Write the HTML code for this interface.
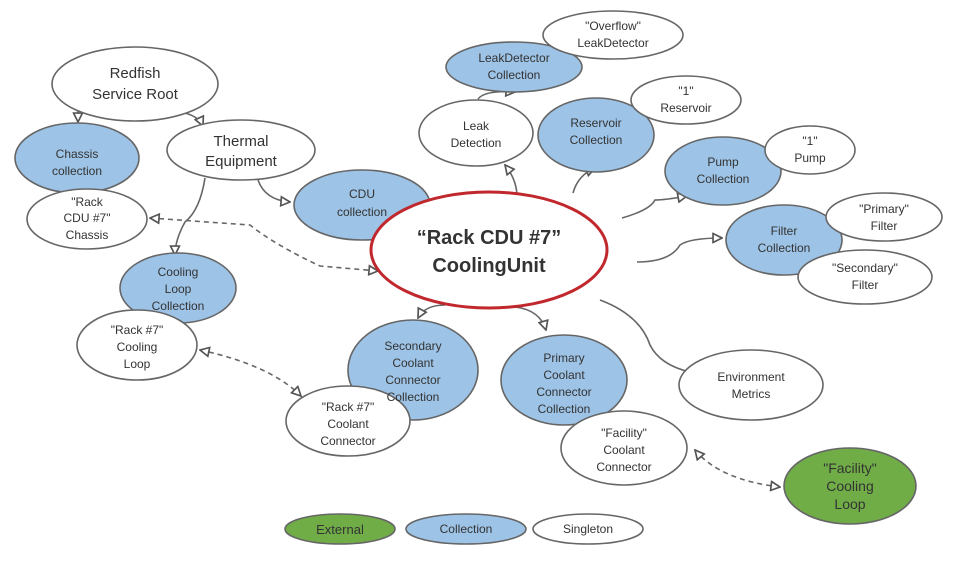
<!DOCTYPE html>
<html><head><meta charset="utf-8"><style>
html,body{margin:0;padding:0;background:#fff}
svg text{font-family:"Liberation Sans",sans-serif;fill:#333;text-anchor:middle}
</style></head><body>
<svg width="973" height="577" viewBox="0 0 973 577" xmlns="http://www.w3.org/2000/svg">
<defs>
<marker id="a" viewBox="0 0 10 10" refX="9" refY="5" markerWidth="7" markerHeight="7" orient="auto-start-reverse"><path d="M1,1 L9,5 L1,9 Z" fill="#fff" stroke="#555" stroke-width="1.5"/></marker>
</defs>
<g fill="none" stroke="#666" stroke-width="1.6">
<path d="M78,110 L78,122" marker-end="url(#a)"/>
<path d="M180,112 Q198,115 203,126" marker-end="url(#a)"/>
<path d="M258,180 Q265,200 290,202" marker-end="url(#a)"/>
<path d="M205,178 Q200,210 185,222 Q175,240 175,255" marker-end="url(#a)"/>
<path d="M150,218 L250,225 Q275,245 320,266 L378,271" stroke-dasharray="5,4" marker-start="url(#a)" marker-end="url(#a)"/>
<path d="M200,350 Q270,365 301,396" stroke-dasharray="5,4" marker-start="url(#a)" marker-end="url(#a)"/>
<path d="M780,487 Q720,480 695,450" stroke-dasharray="5,4" marker-start="url(#a)" marker-end="url(#a)"/>
<path d="M517,197 Q517,180 505,165" marker-end="url(#a)"/>
<path d="M478,99 Q485,90 515,92" marker-end="url(#a)"/>
<path d="M573,193 Q578,175 595,168" marker-end="url(#a)"/>
<path d="M622,218 Q650,210 655,200 Q665,200 687,196" marker-end="url(#a)"/>
<path d="M637,262 Q670,262 680,245 Q690,238 722,238" marker-end="url(#a)"/>
<path d="M445,305 Q425,305 418,318" marker-end="url(#a)"/>
<path d="M515,307 Q540,310 546,330" marker-end="url(#a)"/>
<path d="M600,300 Q640,315 650,345 Q660,365 690,372"/>
</g>
<g stroke="#666" stroke-width="1.6">
<ellipse cx="77" cy="158" rx="62" ry="35" fill="#9dc3e6"/>
<ellipse cx="362" cy="205" rx="68" ry="35" fill="#9dc3e6"/>
<ellipse cx="178" cy="288" rx="58" ry="35" fill="#9dc3e6"/>
<ellipse cx="514" cy="67" rx="68" ry="25" fill="#9dc3e6"/>
<ellipse cx="596" cy="135" rx="58" ry="37" fill="#9dc3e6"/>
<ellipse cx="723" cy="171" rx="58" ry="34" fill="#9dc3e6"/>
<ellipse cx="784" cy="240" rx="58" ry="35" fill="#9dc3e6"/>
<ellipse cx="413" cy="370" rx="65" ry="50" fill="#9dc3e6"/>
<ellipse cx="564" cy="380" rx="63" ry="45" fill="#9dc3e6"/>
<ellipse cx="135" cy="84" rx="83" ry="37" fill="#fff"/>
<ellipse cx="241" cy="150" rx="74" ry="30" fill="#fff"/>
<ellipse cx="87" cy="219" rx="60" ry="30" fill="#fff"/>
<ellipse cx="137" cy="345" rx="60" ry="35" fill="#fff"/>
<ellipse cx="476" cy="133" rx="57" ry="33" fill="#fff"/>
<ellipse cx="613" cy="35" rx="70" ry="24" fill="#fff"/>
<ellipse cx="686" cy="100" rx="55" ry="24" fill="#fff"/>
<ellipse cx="810" cy="150" rx="45" ry="24" fill="#fff"/>
<ellipse cx="884" cy="217" rx="58" ry="24" fill="#fff"/>
<ellipse cx="865" cy="277" rx="67" ry="27" fill="#fff"/>
<ellipse cx="348" cy="421" rx="62" ry="35" fill="#fff"/>
<ellipse cx="624" cy="448" rx="63" ry="37" fill="#fff"/>
<ellipse cx="751" cy="385" rx="72" ry="35" fill="#fff"/>
<ellipse cx="850" cy="486" rx="66" ry="38" fill="#70ad47"/>
<ellipse cx="489" cy="250" rx="118" ry="58" fill="#fff" stroke="#c0282d" stroke-width="3"/>
<ellipse cx="340" cy="529" rx="55" ry="15" fill="#70ad47"/>
<ellipse cx="466" cy="529" rx="60" ry="15" fill="#9dc3e6"/>
<ellipse cx="588" cy="529" rx="55" ry="15" fill="#fff"/>
</g>
<g font-size="15">
<text x="135" y="78">Redfish</text><text x="135" y="99">Service Root</text>
<text x="241" y="146">Thermal</text><text x="241" y="166">Equipment</text>
</g>
<g font-size="20" font-weight="bold"><text x="489" y="244">“Rack CDU #7”</text><text x="489" y="272">CoolingUnit</text></g>
<g font-size="12">
<text x="77" y="158">Chassis</text><text x="77" y="175">collection</text>
<text x="87" y="206">"Rack</text><text x="87" y="222">CDU #7"</text><text x="87" y="239">Chassis</text>
<text x="362" y="198">CDU</text><text x="362" y="216">collection</text>
<text x="178" y="276">Cooling</text><text x="178" y="293">Loop</text><text x="178" y="310">Collection</text>
<text x="137" y="334">"Rack #7"</text><text x="137" y="351">Cooling</text><text x="137" y="368">Loop</text>
<text x="476" y="130">Leak</text><text x="476" y="147">Detection</text>
<text x="514" y="62">LeakDetector</text><text x="514" y="79">Collection</text>
<text x="613" y="30">"Overflow"</text><text x="613" y="47">LeakDetector</text>
<text x="596" y="127">Reservoir</text><text x="596" y="144">Collection</text>
<text x="686" y="95">"1"</text><text x="686" y="112">Reservoir</text>
<text x="723" y="166">Pump</text><text x="723" y="183">Collection</text>
<text x="810" y="145">"1"</text><text x="810" y="162">Pump</text>
<text x="784" y="235">Filter</text><text x="784" y="252">Collection</text>
<text x="884" y="213">"Primary"</text><text x="884" y="230">Filter</text>
<text x="865" y="272">"Secondary"</text><text x="865" y="289">Filter</text>
<text x="413" y="350">Secondary</text><text x="413" y="367">Coolant</text><text x="413" y="384">Connector</text><text x="413" y="401">Collection</text>
<text x="348" y="411">"Rack #7"</text><text x="348" y="428">Coolant</text><text x="348" y="445">Connector</text>
<text x="564" y="362">Primary</text><text x="564" y="379">Coolant</text><text x="564" y="396">Connector</text><text x="564" y="413">Collection</text>
<text x="624" y="437">"Facility"</text><text x="624" y="454">Coolant</text><text x="624" y="471">Connector</text>
<text x="751" y="381">Environment</text><text x="751" y="398">Metrics</text>
<text x="466" y="533">Collection</text><text x="588" y="533">Singleton</text>
</g>
<g font-size="14">
<text x="850" y="473">"Facility"</text><text x="850" y="491">Cooling</text><text x="850" y="509">Loop</text>
<text x="340" y="534" font-size="13">External</text>
</g>
</svg>
</body></html>
